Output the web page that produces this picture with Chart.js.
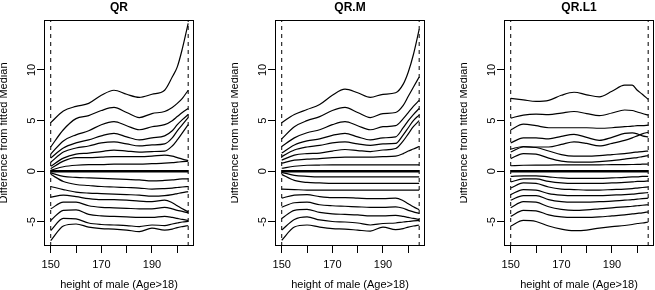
<!DOCTYPE html>
<html><head><meta charset="utf-8">
<script src="https://cdn.jsdelivr.net/npm/chart.js@4/dist/chart.umd.min.js"></script>
<style>
html,body{margin:0;padding:0;background:#fff;}
body{width:655px;height:290px;overflow:hidden;position:relative;}
.pn{position:absolute;top:0;height:290px;width:196px;}
canvas{display:block;}
</style></head><body>
<div class="pn" style="left:0px"><canvas id="c0" width="196" height="290"></canvas></div>
<div class="pn" style="left:231px"><canvas id="c1" width="196" height="290"></canvas></div>
<div class="pn" style="left:460px"><canvas id="c2" width="196" height="290"></canvas></div>
<script>
// ---- data ----
const panelTitles = ['QR', 'QR.M', 'QR.L1'];
const xAxisTitle = 'height of male (Age>18)';
const yAxisTitle = 'Difference from fitted Median';
const heights = [150, 155, 160, 165, 170, 175, 180, 185, 190, 195, 198, 200, 202, 204.3];
const dataRange = [150, 204.3];
const xTicks = [150, 160, 170, 180, 190, 200];
const xTickLabels = [150, 170, 190];
const yTicks = [-5, 0, 5, 10];
const xLim = [147.35, 206.6];
const yLim = [-7.37, 14.93];
const median = [0, 0, 0, 0, 0, 0, 0, 0, 0, 0, 0, 0, 0, 0];

const qrUpper = [
  [4.8, 5.95, 6.4, 6.7, 7.5, 8.0, 7.6, 7.3, 7.6, 8.0, 9.3, 10.3, 12.1, 14.6],
  [2.4, 4.1, 5.2, 5.5, 6.0, 6.3, 5.8, 5.3, 5.7, 5.9, 6.3, 6.7, 7.2, 8.0],
  [1.7, 3.0, 3.6, 4.0, 4.6, 4.9, 4.5, 4.1, 4.4, 4.6, 5.0, 5.4, 5.8, 6.2],
  [1.3, 2.3, 2.8, 3.1, 3.5, 3.75, 3.4, 3.1, 3.3, 3.5, 4.0, 4.6, 5.1, 5.6],
  [0.9, 1.9, 2.3, 2.5, 2.8, 2.9, 2.7, 2.5, 2.6, 2.7, 3.3, 4.0, 4.6, 5.3],
  [0.5, 1.3, 1.7, 1.8, 1.95, 2.1, 2.0, 1.9, 1.95, 2.0, 2.5, 3.1, 3.8, 4.6],
  [0.25, 1.0, 1.35, 1.35, 1.4, 1.45, 1.45, 1.45, 1.5, 1.6, 1.5, 1.35, 1.2, 1.05],
  [0.1, 0.45, 0.6, 0.65, 0.65, 0.7, 0.7, 0.7, 0.75, 0.8, 0.85, 0.9, 0.95, 1.0]
];
const qrLower = [
  [-0.15, -0.5, -0.6, -0.65, -0.7, -0.75, -0.8, -0.85, -0.95, -0.9, -0.85, -0.8, -0.75, -0.75],
  [-0.3, -1.0, -1.3, -1.4, -1.5, -1.55, -1.6, -1.65, -1.75, -1.7, -1.65, -1.6, -1.55, -1.5],
  [-1.5, -1.8, -2.05, -2.15, -2.2, -2.25, -2.3, -2.35, -2.45, -2.4, -2.3, -2.2, -2.1, -2.0],
  [-2.55, -2.35, -2.5, -2.7, -2.8, -2.8, -2.85, -2.95, -3.0, -2.85, -3.1, -3.4, -3.7, -4.0],
  [-3.7, -3.05, -3.05, -3.4, -3.55, -3.6, -3.65, -3.7, -3.7, -3.55, -3.7, -3.85, -3.95, -4.1],
  [-4.85, -3.85, -3.8, -4.25, -4.4, -4.45, -4.5, -4.55, -4.55, -4.45, -4.55, -4.65, -4.75, -4.85],
  [-5.85, -4.65, -4.7, -5.1, -5.25, -5.3, -5.35, -5.45, -5.3, -5.35, -5.2, -5.1, -5.0, -4.95],
  [-6.85, -5.4, -5.2, -5.5, -5.65, -5.7, -5.8, -5.95, -5.6, -5.8, -5.7, -5.55, -5.45, -5.35]
];
const qrmUpper = [
  [4.8, 5.6, 6.1, 6.6, 7.5, 8.1, 7.75, 7.3, 7.6, 7.75, 8.6, 9.8, 11.5, 14.0],
  [3.2, 4.4, 5.0, 5.4, 6.0, 6.3, 5.8, 5.3, 5.7, 5.8, 6.5, 7.4, 8.3, 9.3],
  [2.45, 3.3, 3.8, 4.1, 4.6, 4.9, 4.5, 4.1, 4.4, 4.5, 5.2, 5.8, 6.4, 7.0],
  [1.8, 2.6, 3.0, 3.2, 3.55, 3.75, 3.4, 3.1, 3.3, 3.4, 4.3, 5.0, 5.6, 6.2],
  [1.45, 2.1, 2.4, 2.55, 2.8, 2.9, 2.7, 2.55, 2.7, 2.75, 3.6, 4.3, 5.0, 5.55],
  [1.1, 1.6, 1.75, 1.8, 2.0, 2.15, 2.05, 1.95, 2.1, 2.25, 3.0, 3.7, 4.4, 5.0],
  [0.8, 1.1, 1.2, 1.25, 1.35, 1.4, 1.4, 1.4, 1.45, 1.5, 1.75, 2.0, 2.2, 2.45],
  [0.3, 0.5, 0.6, 0.62, 0.63, 0.63, 0.63, 0.63, 0.63, 0.63, 0.63, 0.63, 0.63, 0.63]
];
const qrmLower = [
  [-0.1, -0.4, -0.5, -0.55, -0.55, -0.55, -0.55, -0.55, -0.55, -0.55, -0.55, -0.55, -0.55, -0.55],
  [-0.3, -0.9, -1.1, -1.15, -1.2, -1.2, -1.2, -1.2, -1.2, -1.2, -1.2, -1.2, -1.2, -1.2],
  [-1.75, -1.8, -1.85, -1.85, -1.85, -1.85, -1.85, -1.85, -1.85, -1.85, -1.85, -1.85, -1.85, -1.85],
  [-2.65, -2.35, -2.3, -2.5, -2.6, -2.6, -2.65, -2.7, -2.7, -2.65, -2.9, -3.2, -3.5, -3.8],
  [-3.55, -3.1, -3.05, -3.3, -3.4, -3.45, -3.5, -3.55, -3.55, -3.5, -3.65, -3.85, -4.0, -4.15],
  [-4.65, -3.85, -3.75, -4.05, -4.2, -4.25, -4.3, -4.4, -4.4, -4.35, -4.45, -4.55, -4.65, -4.75],
  [-5.8, -4.75, -4.5, -4.8, -4.95, -5.0, -5.1, -5.3, -5.15, -5.1, -5.0, -4.95, -4.9, -4.85],
  [-6.8, -5.5, -5.3, -5.5, -5.65, -5.7, -5.8, -5.9, -5.5, -5.75, -5.65, -5.5, -5.4, -5.3]
];
const qrl1Upper = [
  [7.2, 7.05, 6.9, 7.0, 7.5, 7.8, 7.55, 7.35, 7.9, 8.5, 8.5, 8.0, 7.6, 7.1],
  [5.25, 5.55, 5.65, 5.6, 5.75, 5.9, 5.7, 5.5, 5.75, 6.05, 6.0, 5.85, 5.7, 5.55],
  [4.1, 4.65, 4.5, 4.3, 4.3, 4.3, 4.3, 4.25, 4.3, 4.4, 4.45, 4.5, 4.5, 4.55],
  [2.8, 3.3, 3.3, 3.2, 3.45, 3.65, 3.35, 3.05, 3.35, 3.75, 3.8, 3.7, 3.5, 3.4],
  [2.2, 2.45, 2.4, 2.4, 2.65, 2.9, 2.75, 2.5, 2.75, 3.05, 3.3, 3.5, 3.7, 3.85],
  [1.9, 2.4, 2.35, 2.0, 1.65, 1.5, 1.5, 1.55, 1.65, 1.75, 1.85, 1.9, 1.95, 2.0],
  [1.25, 1.75, 1.7, 1.3, 1.0, 0.9, 0.9, 0.95, 1.05, 1.2, 1.3, 1.35, 1.45, 1.55],
  [0.55, 0.6, 0.62, 0.62, 0.63, 0.63, 0.63, 0.64, 0.65, 0.66, 0.67, 0.68, 0.7, 0.72]
];
const qrl1Lower = [
  [-0.5, -0.45, -0.45, -0.55, -0.65, -0.7, -0.7, -0.7, -0.65, -0.6, -0.55, -0.55, -0.5, -0.5],
  [-1.05, -0.75, -0.75, -1.0, -1.15, -1.2, -1.2, -1.2, -1.15, -1.1, -1.05, -1.0, -1.0, -0.95],
  [-1.65, -1.15, -1.2, -1.55, -1.75, -1.8, -1.85, -1.85, -1.8, -1.75, -1.7, -1.65, -1.6, -1.55],
  [-2.3, -1.8, -1.85, -2.2, -2.35, -2.4, -2.4, -2.4, -2.35, -2.3, -2.25, -2.2, -2.15, -2.1],
  [-2.85, -2.4, -2.4, -2.8, -3.0, -3.05, -3.05, -3.0, -2.95, -2.85, -2.8, -2.75, -2.7, -2.65],
  [-3.6, -3.0, -3.05, -3.5, -3.75, -3.85, -3.8, -3.7, -3.6, -3.5, -3.45, -3.4, -3.35, -3.3],
  [-4.45, -3.85, -3.9, -4.3, -4.5, -4.55, -4.55, -4.5, -4.4, -4.3, -4.2, -4.15, -4.1, -4.0],
  [-5.4, -4.85, -4.95, -5.4, -5.7, -5.85, -5.8, -5.6, -5.45, -5.35, -5.25, -5.15, -5.1, -5.0]
];

// ---- rendering ----
const FONT = "'Liberation Sans', Arial, Helvetica, sans-serif";
const panels = [
  {title: panelTitles[0], upper: qrUpper, lower: qrLower},
  {title: panelTitles[1], upper: qrmUpper, lower: qrmLower},
  {title: panelTitles[2], upper: qrl1Upper, lower: qrl1Lower}
];

const boxPlugin = {
  id: 'box',
  afterDraw(chart) {
    const {ctx, chartArea: a} = chart;
    ctx.save();
    ctx.strokeStyle = '#000';
    ctx.lineWidth = 1;
    ctx.strokeRect(Math.round(a.left) + 0.5, Math.round(a.top) + 0.5,
                   Math.round(a.right - a.left) - 1, Math.round(a.bottom - a.top) - 1);
    ctx.restore();
  }
};

function curve(vals, width) {
  return {
    data: heights.map((h, i) => ({x: h, y: vals[i]})),
    borderColor: '#000', borderWidth: width, pointRadius: 0, fill: false,
    cubicInterpolationMode: 'monotone'
  };
}
function vline(xv) {
  return {
    data: [{x: xv, y: yLim[0]}, {x: xv, y: yLim[1]}],
    borderColor: '#000', borderWidth: 1, borderDash: [4, 4], pointRadius: 0, fill: false, tension: 0
  };
}

panels.forEach((p, k) => {
  const ds = [];
  p.upper.forEach(v => ds.push(curve(v, 1.2)));
  p.lower.forEach(v => ds.push(curve(v, 1.2)));
  const med = curve(median, 2.4); med.cubicInterpolationMode = 'default'; med.tension = 0;
  ds.push(med);
  dataRange.forEach(xv => ds.push(vline(xv)));

  const gridOpts = {drawOnChartArea: false, drawTicks: true, tickLength: 7, color: '#000', lineWidth: 1};
  new Chart(document.getElementById('c' + k), {
    type: 'line',
    data: {datasets: ds},
    plugins: [boxPlugin],
    options: {
      responsive: false, animation: false, devicePixelRatio: 1,
      layout: {padding: {left: 0, right: 2, top: 0, bottom: 0}},
      plugins: {
        legend: {display: false}, tooltip: {enabled: false},
        title: {display: true, text: p.title, fullSize: false, color: '#000',
                font: {family: FONT, size: 12, weight: 'bold'}, padding: {top: 0, bottom: 5.6}}
      },
      scales: {
        x: {
          type: 'linear', min: xLim[0], max: xLim[1],
          afterBuildTicks: s => { s.ticks = xTicks.map(v => ({value: v})); },
          afterFit: s => { s.height = 44; },
          ticks: {autoSkip: false, maxRotation: 0, minRotation: 0, padding: 5.4, color: '#000',
                  font: {family: FONT, size: 11},
                  callback: v => xTickLabels.includes(v) ? String(v) : ''},
          grid: gridOpts, border: {display: false},
          title: {display: true, text: xAxisTitle, color: '#000', font: {family: FONT, size: 11},
                  padding: {top: 0, bottom: -1.9}}
        },
        y: {
          type: 'linear', min: yLim[0], max: yLim[1],
          afterBuildTicks: s => { s.ticks = yTicks.map(v => ({value: v})); },
          afterFit: s => { s.width = 44; },
          ticks: {autoSkip: false, minRotation: 90, maxRotation: 90, crossAlign: 'center', padding: -1,
                  color: '#000', font: {family: FONT, size: 11}, callback: v => String(v)},
          grid: gridOpts, border: {display: false},
          title: {display: true, text: yAxisTitle, color: '#000', font: {family: FONT, size: 11},
                  padding: {top: -2.2, bottom: 0}}
        }
      }
    }
  });
});
</script>
</body></html>
